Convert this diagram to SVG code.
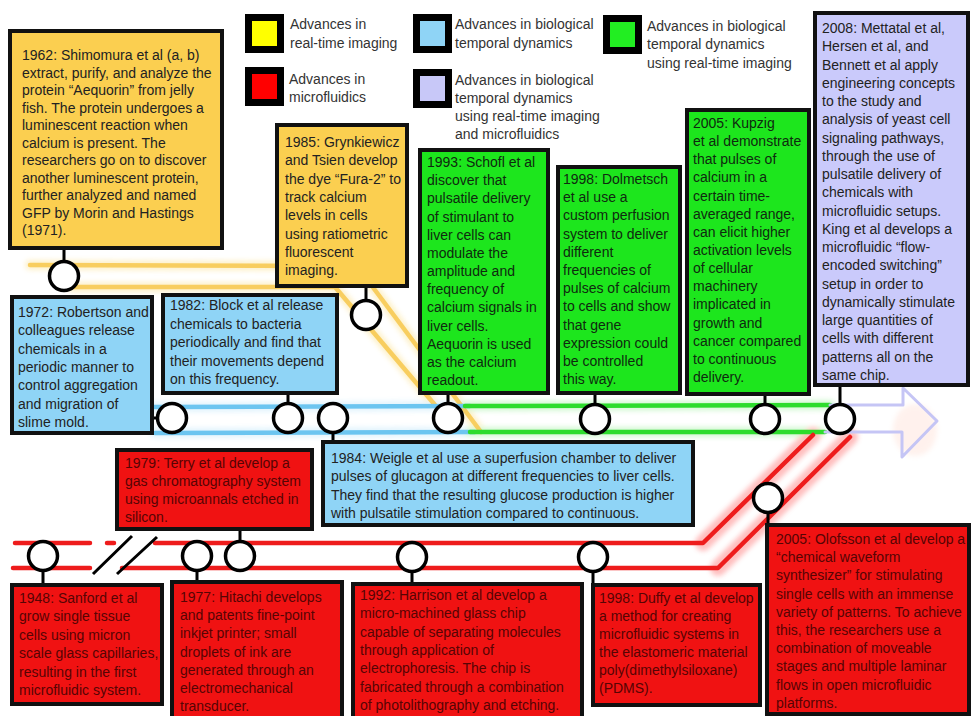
<svg xmlns="http://www.w3.org/2000/svg" width="971" height="716" viewBox="0 0 971 716">
<defs>
<style>
.t{font-family:"Liberation Sans",Arial,sans-serif;font-size:14px;fill:#222}
.lg{font-family:"Liberation Sans",Arial,sans-serif;font-size:14px;fill:#333}
.tr{fill:#560404}
.tg{fill:#0f2a0f}
.box{stroke:#111;stroke-width:4}
.y{fill:#fbcf50}.b{fill:#8fd4f6}.g{fill:#1de61d}.r{fill:#f01212}.l{fill:#cacafb}
.sw{stroke:#000;stroke-width:7}
.c{fill:#fff;stroke:#000;stroke-width:3.5}
.s{stroke:#000;stroke-width:3;fill:none}
.st{fill:none;stroke-linecap:round;stroke-linejoin:round}
</style>
<filter id="blur" x="-20%" y="-50%" width="140%" height="200%"><feGaussianBlur stdDeviation="2.5"/></filter>
</defs>
<rect width="971" height="716" fill="#fff"/>

<g id="legend">
<rect class="sw" x="248.5" y="17.5" width="32" height="32" fill="#ffff00"/>
<text class="lg" x="290" y="29">Advances in</text>
<text class="lg" x="290" y="48">real-time imaging</text>
<rect class="sw" x="248.5" y="70.5" width="32" height="32" fill="#ff0000"/>
<text class="lg" x="289" y="84">Advances in</text>
<text class="lg" x="289" y="102">microfluidics</text>
<rect class="sw" x="416.5" y="17.5" width="32" height="32" fill="#8fd4f6"/>
<text class="lg" x="455" y="29">Advances in biological</text>
<text class="lg" x="455" y="48">temporal dynamics</text>
<rect class="sw" x="416.5" y="72.5" width="32" height="32" fill="#c8c8f8"/>
<text class="lg" x="455" y="85">Advances in biological</text>
<text class="lg" x="455" y="103">temporal dynamics</text>
<text class="lg" x="455" y="121">using real-time imaging</text>
<text class="lg" x="455" y="139">and microfluidics</text>
<rect class="sw" x="606.5" y="18.5" width="32" height="32" fill="#22ee22"/>
<text class="lg" x="647" y="31">Advances in biological</text>
<text class="lg" x="647" y="49">temporal dynamics</text>
<text class="lg" x="647" y="68">using real-time imaging</text>
</g>

<g id="connectors">
<g filter="url(#blur)" opacity="0.45" class="st" stroke-width="10">
<path d="M30,265 L357,266 L481,432 M72,287 L335,287 L435,405" stroke="#fbe08a"/>
<path d="M150,407 L470,406 M155,433 L475,432" stroke="#bfe6fa"/>
<path d="M465,406 L830,405 M470,432 L820,432" stroke="#9ef09e"/>
<path d="M703,543 L813,435 M718,568 L850,437" stroke="#ff7070" stroke-width="16"/>
</g>
<ellipse cx="915" cy="430" rx="22" ry="26" fill="#ffd9cc" opacity="0.35" filter="url(#blur)"/>
<g class="st" stroke-width="4.5">
<path d="M30,265 L357,266 L481,432 M72,287 L335,287 L435,405" stroke="#f6c443" opacity="0.8"/>
<path d="M150,407 L470,406 M155,433 L475,432" stroke="#6cc5f0"/>
<path d="M465,406 L830,405 M470,432 L825,432" stroke="#2ddc2d"/>
<path d="M830,405 H903 V388 L937,421 L902,457 V432 H825" stroke="#c5c5f5" stroke-width="3"/>
<path d="M15,543 H90 M107,543 H114 M155,543 H703 L813,435 M13,568 H90 M122,568 H718 L850,437" stroke="#ee1c1c"/>
</g>
<path class="s" d="M93,574 L132,536 M117,574 L157,537"/>
<path class="s" d="M64,248 V262 M366,286 V301 M152,418 H158 M288,393 V405 M333,432 V442 M448,393 V403 M595,393 V405 M765,394 V405 M840,385 V405 M240,529 V542 M43,570 V585 M197,570 V582 M412,571 V584 M593,571 V585 M768,512 V525"/>
</g>

<g id="n1962">
<rect class="box y" x="10" y="31" width="212" height="217"/>
<text class="t" x="22" y="60"><tspan x="22">1962: Shimomura et al (a, b)</tspan><tspan x="22" dy="17.5">extract, purify, and analyze the</tspan><tspan x="22" dy="17.5">protein “Aequorin” from jelly</tspan><tspan x="22" dy="17.5">fish. The protein undergoes a</tspan><tspan x="22" dy="17.5">luminescent reaction when</tspan><tspan x="22" dy="17.5">calcium is present. The</tspan><tspan x="22" dy="17.5">researchers go on to discover</tspan><tspan x="22" dy="17.5">another luminescent protein,</tspan><tspan x="22" dy="17.5">further analyzed and named</tspan><tspan x="22" dy="17.5">GFP by Morin and Hastings</tspan><tspan x="22" dy="17.5">(1971).</tspan></text>
<circle class="c" cx="64" cy="276" r="14.5"/>
</g>

<g id="n1985">
<rect class="box y" x="277" y="125" width="130" height="161"/>
<text class="t" x="285" y="147"><tspan x="285">1985: Grynkiewicz</tspan><tspan x="285" dy="18.3">and Tsien develop</tspan><tspan x="285" dy="18.3">the dye “Fura-2” to</tspan><tspan x="285" dy="18.3">track calcium</tspan><tspan x="285" dy="18.3">levels in cells</tspan><tspan x="285" dy="18.3">using ratiometric</tspan><tspan x="285" dy="18.3">fluorescent</tspan><tspan x="285" dy="18.3">imaging.</tspan></text>
<circle class="c" cx="366" cy="315" r="14.5"/>
</g>

<g id="n1972">
<rect class="box b" x="12" y="297" width="140" height="136"/>
<text class="t" x="18" y="317"><tspan x="18">1972: Robertson and</tspan><tspan x="18" dy="18.3">colleagues release</tspan><tspan x="18" dy="18.3">chemicals in a</tspan><tspan x="18" dy="18.3">periodic manner to</tspan><tspan x="18" dy="18.3">control aggregation</tspan><tspan x="18" dy="18.3">and migration of</tspan><tspan x="18" dy="18.3">slime mold.</tspan></text>
<circle class="c" cx="172" cy="418" r="14.5"/>
</g>

<g id="n1982">
<rect class="box b" x="163" y="295" width="174" height="98"/>
<text class="t" x="170" y="310"><tspan x="170">1982:  Block et al release</tspan><tspan x="170" dy="18.5">chemicals to bacteria</tspan><tspan x="170" dy="18.5">periodically and find that</tspan><tspan x="170" dy="18.5">their movements depend</tspan><tspan x="170" dy="18.5">on this frequency.</tspan></text>
<circle class="c" cx="288" cy="418" r="14.5"/>
</g>

<g id="n1984">
<rect class="box b" x="323" y="442" width="370" height="83"/>
<text class="t" x="331" y="463"><tspan x="331">1984: Weigle et al use a superfusion chamber to deliver</tspan><tspan x="331" dy="18.3">pulses of glucagon at different frequencies to liver cells.</tspan><tspan x="331" dy="18.3">They find that the resulting glucose production is higher</tspan><tspan x="331" dy="18.3">with pulsatile stimulation compared to continuous.</tspan></text>
<circle class="c" cx="333" cy="418" r="14.5"/>
</g>

<g id="n1993">
<rect class="box g" x="420" y="150" width="128" height="243"/>
<text class="t tg" x="427" y="167"><tspan x="427">1993: Schofl et al</tspan><tspan x="427" dy="18.17">discover that</tspan><tspan x="427" dy="18.17">pulsatile delivery</tspan><tspan x="427" dy="18.17">of stimulant to</tspan><tspan x="427" dy="18.17">liver cells can</tspan><tspan x="427" dy="18.17">modulate the</tspan><tspan x="427" dy="18.17">amplitude and</tspan><tspan x="427" dy="18.17">frequency of</tspan><tspan x="427" dy="18.17">calcium signals in</tspan><tspan x="427" dy="18.17">liver cells.</tspan><tspan x="427" dy="18.17">Aequorin is used</tspan><tspan x="427" dy="18.17">as the calcium</tspan><tspan x="427" dy="18.17">readout.</tspan></text>
<circle class="c" cx="448" cy="418" r="14.5"/>
</g>

<g id="n1998a">
<rect class="box g" x="558" y="167" width="122" height="226"/>
<text class="t tg" x="563" y="184"><tspan x="563">1998: Dolmetsch</tspan><tspan x="563" dy="18.2">et al use a</tspan><tspan x="563" dy="18.2">custom perfusion</tspan><tspan x="563" dy="18.2">system to deliver</tspan><tspan x="563" dy="18.2">different</tspan><tspan x="563" dy="18.2">frequencies of</tspan><tspan x="563" dy="18.2">pulses of calcium</tspan><tspan x="563" dy="18.2">to cells and show</tspan><tspan x="563" dy="18.2">that gene</tspan><tspan x="563" dy="18.2">expression could</tspan><tspan x="563" dy="18.2">be controlled</tspan><tspan x="563" dy="18.2">this way.</tspan></text>
<circle class="c" cx="595" cy="419" r="14.5"/>
</g>

<g id="n2005a">
<rect class="box g" x="687" y="110" width="122" height="284"/>
<text class="t tg" x="693" y="128"><tspan x="693">2005: Kupzig</tspan><tspan x="693" dy="18.14">et al demonstrate</tspan><tspan x="693" dy="18.14">that pulses of</tspan><tspan x="693" dy="18.14">calcium in a</tspan><tspan x="693" dy="18.14">certain time-</tspan><tspan x="693" dy="18.14">averaged range,</tspan><tspan x="693" dy="18.14">can elicit higher</tspan><tspan x="693" dy="18.14">activation levels</tspan><tspan x="693" dy="18.14">of cellular</tspan><tspan x="693" dy="18.14">machinery</tspan><tspan x="693" dy="18.14">implicated in</tspan><tspan x="693" dy="18.14">growth and</tspan><tspan x="693" dy="18.14">cancer compared</tspan><tspan x="693" dy="18.14">to continuous</tspan><tspan x="693" dy="18.14">delivery.</tspan></text>
<circle class="c" cx="765" cy="419" r="14.5"/>
</g>

<g id="n2008">
<rect class="box l" x="815" y="13" width="153" height="372"/>
<text class="t" x="822" y="33"><tspan x="822">2008: Mettatal et al,</tspan><tspan x="822" dy="18.26">Hersen et al, and</tspan><tspan x="822" dy="18.26">Bennett et al apply</tspan><tspan x="822" dy="18.26">engineering concepts</tspan><tspan x="822" dy="18.26">to the study and</tspan><tspan x="822" dy="18.26">analysis of yeast cell</tspan><tspan x="822" dy="18.26">signaling pathways,</tspan><tspan x="822" dy="18.26">through the use of</tspan><tspan x="822" dy="18.26">pulsatile delivery of</tspan><tspan x="822" dy="18.26">chemicals with</tspan><tspan x="822" dy="18.26">microfluidic setups.</tspan><tspan x="822" dy="18.26">King et al develops a</tspan><tspan x="822" dy="18.26">microfluidic “flow-</tspan><tspan x="822" dy="18.26">encoded switching”</tspan><tspan x="822" dy="18.26">setup in order to</tspan><tspan x="822" dy="18.26">dynamically stimulate</tspan><tspan x="822" dy="18.26">large quantities of</tspan><tspan x="822" dy="18.26">cells with different</tspan><tspan x="822" dy="18.26">patterns all on the</tspan><tspan x="822" dy="18.26">same chip.</tspan></text>
<circle class="c" cx="840" cy="419" r="14.5"/>
</g>

<g id="n1979">
<rect class="box r" x="117" y="450" width="195" height="79"/>
<text class="t tr" x="125" y="468"><tspan x="125">1979: Terry et al develop a</tspan><tspan x="125" dy="18">gas chromatography system</tspan><tspan x="125" dy="18">using microannals etched in</tspan><tspan x="125" dy="18">silicon.</tspan></text>
<circle class="c" cx="240" cy="556" r="14.5"/>
</g>

<g id="n1948">
<rect class="box r" x="12" y="585" width="150" height="119"/>
<text class="t tr" x="19" y="603"><tspan x="19">1948: Sanford et al</tspan><tspan x="19" dy="18.4">grow single tissue</tspan><tspan x="19" dy="18.4">cells using micron</tspan><tspan x="19" dy="18.4">scale glass capillaries,</tspan><tspan x="19" dy="18.4">resulting in the first</tspan><tspan x="19" dy="18.4">microfluidic system.</tspan></text>
<circle class="c" cx="43" cy="556" r="14.5"/>
</g>

<g id="n1977">
<rect class="box r" x="172" y="582" width="170" height="140"/>
<text class="t tr" x="180" y="602"><tspan x="180">1977: Hitachi develops</tspan><tspan x="180" dy="18.2">and patents fine-point</tspan><tspan x="180" dy="18.2">inkjet printer; small</tspan><tspan x="180" dy="18.2">droplets of ink are</tspan><tspan x="180" dy="18.2">generated through an</tspan><tspan x="180" dy="18.2">electromechanical</tspan><tspan x="180" dy="18.2">transducer.</tspan></text>
<circle class="c" cx="197" cy="556" r="14.5"/>
</g>

<g id="n1992">
<rect class="box r" x="353" y="584" width="229" height="138"/>
<text class="t tr" x="360" y="600"><tspan x="360">1992:  Harrison et al develop a</tspan><tspan x="360" dy="18.3">micro-machined glass chip</tspan><tspan x="360" dy="18.3">capable of separating molecules</tspan><tspan x="360" dy="18.3">through application of</tspan><tspan x="360" dy="18.3">electrophoresis. The chip is</tspan><tspan x="360" dy="18.3">fabricated through a combination</tspan><tspan x="360" dy="18.3">of photolithography and etching.</tspan></text>
<circle class="c" cx="412" cy="557" r="14.5"/>
</g>

<g id="n1998b">
<rect class="box r" x="593" y="585" width="167" height="120"/>
<text class="t tr" x="599" y="603"><tspan x="599">1998: Duffy et al develop</tspan><tspan x="599" dy="18">a method for creating</tspan><tspan x="599" dy="18">microfluidic systems in</tspan><tspan x="599" dy="18">the elastomeric material</tspan><tspan x="599" dy="18">poly(dimethylsiloxane)</tspan><tspan x="599" dy="18">(PDMS).</tspan></text>
<circle class="c" cx="593" cy="557" r="14.5"/>
</g>

<g id="n2005b">
<rect class="box r" x="767" y="525" width="202" height="189"/>
<text class="t tr" x="776" y="544"><tspan x="776">2005: Olofsson et al develop a</tspan><tspan x="776" dy="18.2">“chemical waveform</tspan><tspan x="776" dy="18.2">synthesizer” for stimulating</tspan><tspan x="776" dy="18.2">single cells with an immense</tspan><tspan x="776" dy="18.2">variety of patterns. To achieve</tspan><tspan x="776" dy="18.2">this, the researchers use a</tspan><tspan x="776" dy="18.2">combination of moveable</tspan><tspan x="776" dy="18.2">stages and multiple laminar</tspan><tspan x="776" dy="18.2">flows in open microfluidic</tspan><tspan x="776" dy="18.2">platforms.</tspan></text>
<circle class="c" cx="768" cy="498" r="14.5"/>
</g>
</svg>
